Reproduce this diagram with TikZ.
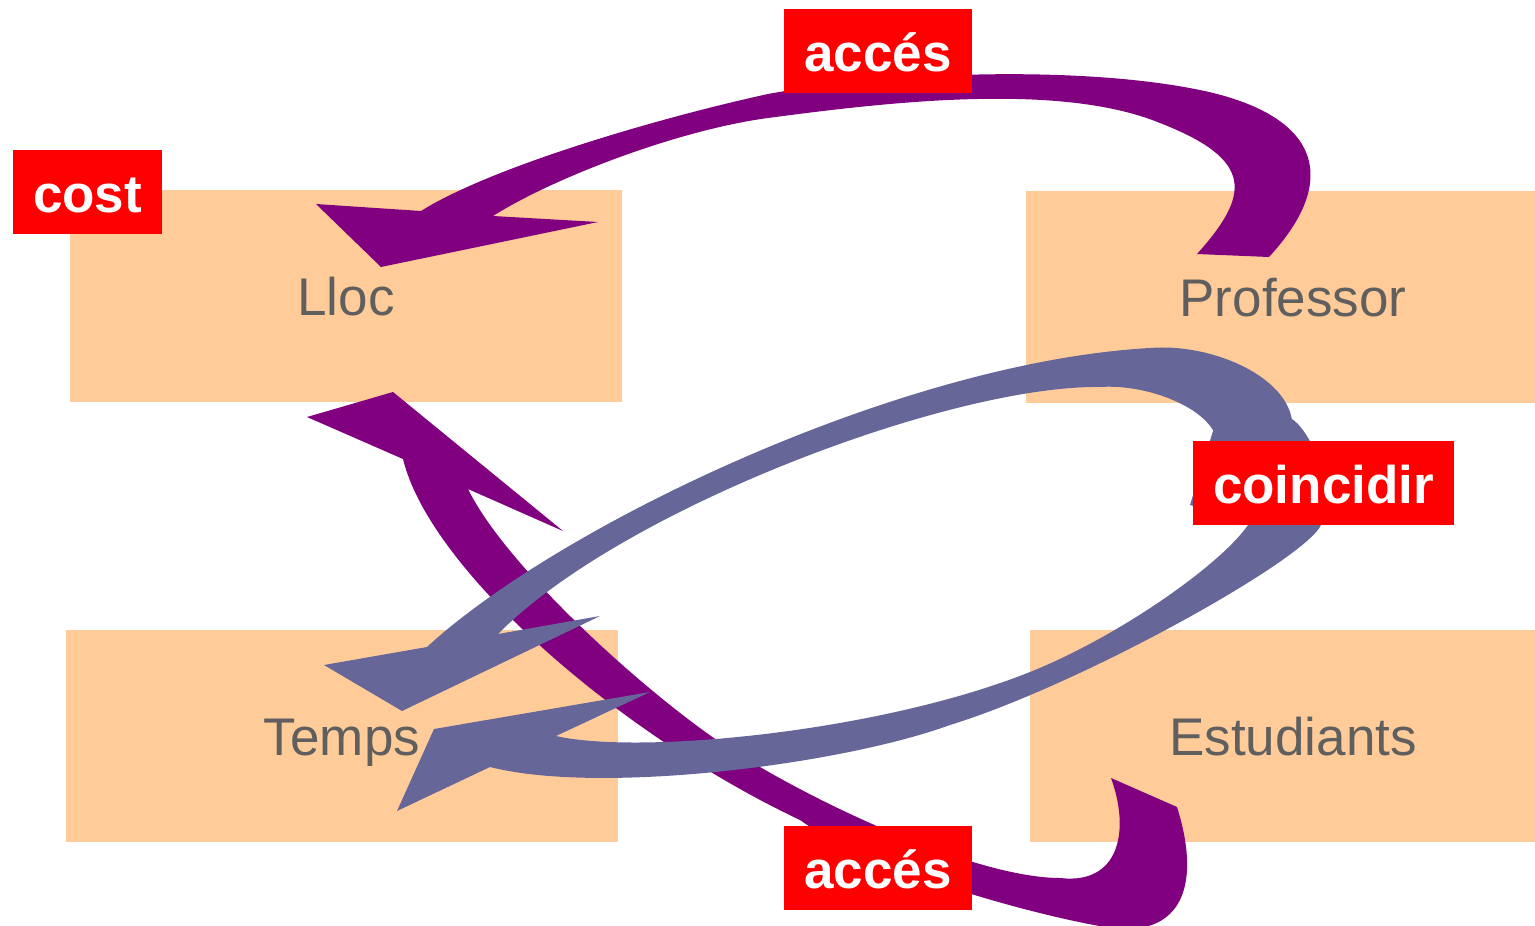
\documentclass[tikz,border=0pt]{standalone}
\usepackage{fontspec}
\setmainfont{Liberation Sans}
\definecolor{peach}{HTML}{FFCC99}
\definecolor{purp}{HTML}{800080}
\definecolor{slate}{HTML}{666699}
\definecolor{txtgray}{HTML}{5F5F5F}
\definecolor{lblred}{HTML}{FF0000}
\begin{document}
\begin{tikzpicture}[x=1pt,y=-1pt,
  entity/.style={fill=peach, draw=none, inner sep=0pt, minimum height=212pt,
    text=txtgray, font=\fontsize{53}{60}\selectfont, text height=38pt, text depth=0pt},
  tag/.style={fill=lblred, draw=none, inner sep=0pt, minimum height=84pt,
    text=white, font=\bfseries\fontsize{53}{60}\selectfont, text height=40pt, text depth=0pt},
  purparrow/.style={fill=purp, draw=none},
  slatearrow/.style={fill=slate, draw=none}]
\useasboundingbox (0,0) rectangle (1535,926);
\clip (0,0) rectangle (1535,926);

% entity boxes
\node[entity, minimum width=552pt] (lloc) at (346,296) {Lloc};
\node[entity, minimum width=534pt] (prof) at (1293,297) {Professor};
\node[entity, minimum width=552pt] (temps) at (342,736) {Temps};
\node[entity, minimum width=526pt] (est) at (1293,736) {Estudiants};

% purple arrow: Estudiants -> Lloc
\fill[purparrow]
  (393,392) -- (307,417) -- (403,459)
  .. controls (430,570) and (620,735) .. (800,820)
  .. controls (880,877) and (1070,924) .. (1120,929)
  .. controls (1185,932) and (1200,880) .. (1177,807)
  -- (1111,778)
  .. controls (1130,830) and (1120,885) .. (1060,878)
  .. controls (990,878) and (860,825) .. (760,767)
  .. controls (680,725) and (510,575) .. (468,489)
  -- (563,531) -- cycle;

% purple arrow: Professor -> Lloc
\fill[purparrow]
  (1197,254)
  .. controls (1250,195) and (1255,160) .. (1160,123)
  .. controls (1060,82) and (888,102) .. (768,118)
  .. controls (678,130) and (553,178) .. (493,216)
  -- (598,222) -- (381,267) -- (316,204) -- (421,211)
  .. controls (491,167) and (658,118) .. (768,94)
  .. controls (900,70) and (1095,66) .. (1209,92)
  .. controls (1320,118) and (1340,180) .. (1269,257)
  -- cycle;

% slate arrow: upper loop -> Temps
\fill[slatearrow]
  (402,711) -- (324,665) -- (427,647)
  .. controls (557,527) and (900,362) .. (1150,348)
  .. controls (1210,343) and (1285,375) .. (1292,420)
  -- (1214,432)
  .. controls (1200,405) and (1145,384) .. (1100,387)
  .. controls (950,385) and (620,510) .. (498,634)
  -- (600,616) -- cycle;

% slate arrow: lower loop -> Temps
\fill[slatearrow]
  (434,729) -- (650,692) -- (556,736)
  .. controls (640,755) and (880,732) .. (1030,672)
  .. controls (1120,636) and (1225,562) .. (1250,522)
  -- (1190,505) -- (1213,431) -- (1292,419)
  .. controls (1315,435) and (1335,495) .. (1321,525)
  .. controls (1305,560) and (1080,685) .. (950,725)
  .. controls (840,765) and (600,795) .. (490,767)
  -- (397,811) -- cycle;

% labels
\node[tag, minimum width=149pt] (lcost) at (87.5,192) {cost};
\node[tag, minimum width=188pt] (lacctop) at (878,51) {accés};
\node[tag, minimum width=188pt] (laccbot) at (878,868) {accés};
\node[tag, minimum width=261pt] (lcoin) at (1323.5,483) {coincidir};
\end{tikzpicture}
\end{document}
